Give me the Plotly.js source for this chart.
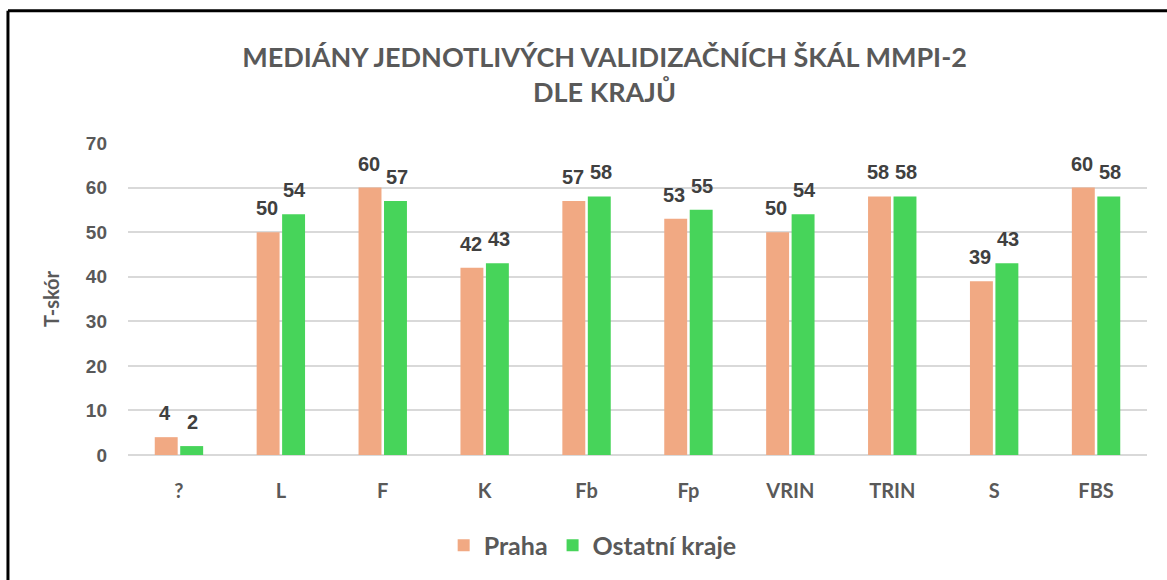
<!DOCTYPE html>
<html><head><meta charset="utf-8">
<script src="https://cdn.plot.ly/plotly-3.0.1.min.js"></script>
<style>html,body{margin:0;padding:0;background:#fff}</style>
</head><body>
<div id="chart" style="width:1167px;height:580px"></div>
<script>
const categories = ["?", "L", "F", "K", "Fb", "Fp", "VRIN", "TRIN", "S", "FBS"];
const praha = [4, 50, 60, 42, 57, 53, 50, 58, 39, 60];
const ostatni = [2, 54, 57, 43, 58, 55, 54, 58, 43, 58];
const seriesNames = ["Praha", "Ostatní kraje"];
const yTicks = [0, 10, 20, 30, 40, 50, 60, 70];

const font = "Lato, 'Open Sans', sans-serif";
const numFont = "'Liberation Sans', Arial, sans-serif";
const mk = (y, name, color) => ({
  type: "bar", x: categories, y: y, name: name,
  marker: {color: color}, hoverinfo: "x+y+name"
});
const data = [mk(praha, seriesNames[0], "#F1A983"), mk(ostatni, seriesNames[1], "#47D45A")];

const labelAnn = (vals, shift) => vals.map((v, i) => ({
  x: categories[i], y: v, xref: "x", yref: "y", text: String(v), showarrow: false,
  xanchor: "center", yanchor: "bottom", xshift: shift, yshift: 11,
  font: {family: numFont, size: 20, color: "#404040", weight: "bold"}
}));

const layout = {
  width: 1167, height: 580,
  margin: {l: 128, r: 20, t: 143, b: 123},
  paper_bgcolor: "#fff", plot_bgcolor: "#fff",
  font: {family: font, color: "#595959"},
  title: {text: "MEDIÁNY JEDNOTLIVÝCH VALIDIZAČNÍCH ŠKÁL MMPI-2<br>DLE KRAJŮ",
          x: 0.518, xanchor: "center", yref: "container", y: 0.885, yanchor: "top",
          font: {family: font, size: 27, color: "#595959", weight: "bold"}},
  barmode: "group", bargap: 0.5, bargroupgap: 0.1,
  xaxis: {tickfont: {family: font, size: 20, color: "#595959", weight: "bold"},
          showline: false, ticks: "", ticklabelstandoff: 22},
  yaxis: {range: [0, 70], tickvals: yTicks, showgrid: true, gridcolor: "#d9d9d9", gridwidth: 2,
          zeroline: true, zerolinecolor: "#d9d9d9", zerolinewidth: 2,
          tickfont: {family: numFont, size: 19, color: "#595959", weight: "bold"},
          ticklabelstandoff: 20,
          title: {text: "T-skór", standoff: 20, font: {family: font, size: 20, color: "#595959", weight: "bold"}}},
  legend: {orientation: "h", x: 0.456, xanchor: "center", y: -0.29, yanchor: "middle",
           font: {family: font, size: 25, color: "#595959", weight: "bold"}, itemwidth: 30},
  annotations: labelAnn(praha, -14).concat(labelAnn(ostatni, 14)),
  shapes: [{type: "line", xref: "paper", yref: "paper", x0: -0.1178, x1: 1.1, y0: 1.4236, y1: 1.4236,
            line: {color: "#000", width: 3}},
           {type: "line", xref: "paper", yref: "paper", x0: -0.1178, x1: -0.1178, y0: 1.4236, y1: -0.5,
            line: {color: "#000", width: 3}}]
};
Plotly.newPlot("chart", data, layout, {displayModeBar: false});
</script>
</body></html>
